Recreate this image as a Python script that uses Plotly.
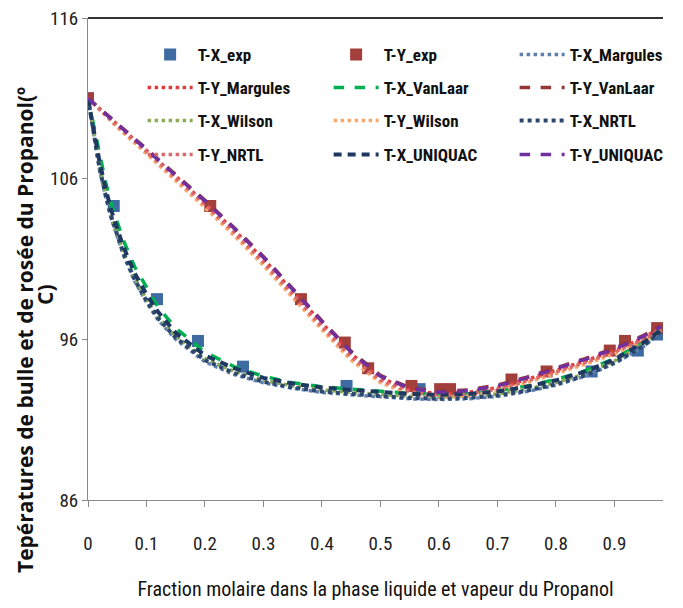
import plotly.graph_objects as go

# ---------------- data ----------------
x_exp_liq = [0, 0.044, 0.118, 0.188, 0.265, 0.442, 0.567, 0.61, 0.861, 0.94, 0.973]
T_exp_liq = [111.0, 104.3, 98.5, 95.9, 94.3, 93.1, 92.9, 92.8, 94.0, 95.3, 96.3]

x_exp_vap = [0, 0.209, 0.364, 0.439, 0.479, 0.553, 0.602, 0.619, 0.724, 0.784, 0.892, 0.918, 0.973]
T_exp_vap = [111.0, 104.3, 98.5, 95.8, 94.2, 93.1, 92.9, 92.9, 93.5, 94.0, 95.3, 95.9, 96.7]

x_liq = [0, 0.01, 0.02, 0.03, 0.04, 0.06, 0.08, 0.1, 0.12, 0.15, 0.2, 0.25, 0.3, 0.35,
         0.4, 0.45, 0.5, 0.55, 0.6, 0.65, 0.7, 0.75, 0.8, 0.85, 0.9, 0.95, 0.98]
TX_margules = [111.0, 108.6, 106.5, 104.9, 103.5, 101.3, 99.6, 98.3, 97.2, 96.0, 94.6, 93.8, 93.3, 92.95,
               92.7, 92.55, 92.4, 92.3, 92.25, 92.3, 92.45, 92.75, 93.15, 93.7, 94.5, 95.55, 96.45]
TX_vanlaar = [111.0, 109.2, 107.4, 105.8, 104.4, 102.2, 100.5, 99.2, 98.0, 96.7, 95.2, 94.3, 93.7, 93.3,
              93.05, 92.9, 92.75, 92.65, 92.6, 92.65, 92.8, 93.1, 93.5, 94.05, 94.8, 95.85, 96.65]
TX_wilson = [111.0, 108.8, 106.8, 105.1, 103.7, 101.5, 99.8, 98.5, 97.4, 96.2, 94.8, 94.0, 93.45, 93.1,
             92.85, 92.7, 92.55, 92.45, 92.4, 92.45, 92.6, 92.9, 93.3, 93.85, 94.65, 95.7, 96.55]
TX_nrtl = [111.0, 108.7, 106.6, 105.0, 103.6, 101.4, 99.7, 98.4, 97.3, 96.1, 94.7, 93.9, 93.35, 93.0,
           92.75, 92.6, 92.45, 92.35, 92.3, 92.35, 92.5, 92.8, 93.2, 93.75, 94.55, 95.6, 96.5]
TX_uniquac = [111.0, 109.0, 107.0, 105.4, 104.0, 101.8, 100.1, 98.8, 97.7, 96.4, 95.0, 94.2, 93.6, 93.25,
              93.0, 92.85, 92.7, 92.6, 92.55, 92.6, 92.75, 93.05, 93.45, 94.0, 94.75, 95.8, 96.6]

x_vap = [0, 0.05, 0.1, 0.15, 0.2, 0.25, 0.3, 0.35, 0.4, 0.45, 0.5, 0.55, 0.6, 0.65, 0.7,
         0.75, 0.8, 0.85, 0.9, 0.95, 0.98]
TY_margules = [111.0, 109.35, 107.75, 106.15, 104.5, 102.8, 101.0, 99.0, 97.0, 95.1, 93.6, 92.85, 92.6,
               92.7, 93.0, 93.5, 94.05, 94.65, 95.3, 96.1, 96.75]
TY_vanlaar = [111.0, 109.45, 107.85, 106.25, 104.65, 102.95, 101.15, 99.15, 97.15, 95.25, 93.75, 93.0,
              92.75, 92.85, 93.15, 93.65, 94.2, 94.8, 95.45, 96.25, 96.85]
TY_wilson = [111.0, 109.2, 107.55, 105.9, 104.2, 102.45, 100.6, 98.6, 96.6, 94.7, 93.3, 92.6, 92.4,
             92.5, 92.8, 93.3, 93.85, 94.45, 95.1, 95.9, 96.55]
TY_nrtl = [111.0, 109.3, 107.7, 106.05, 104.4, 102.65, 100.8, 98.8, 96.8, 94.9, 93.45, 92.75, 92.5,
           92.6, 92.9, 93.4, 93.95, 94.55, 95.2, 96.0, 96.65]
TY_uniquac = [111.0, 109.4, 107.8, 106.2, 104.6, 102.9, 101.1, 99.1, 97.1, 95.2, 93.7, 92.95, 92.7,
              92.8, 93.1, 93.6, 94.15, 94.75, 95.4, 96.2, 96.8]

x_ticks = [0, 0.1, 0.2, 0.3, 0.4, 0.5, 0.6, 0.7, 0.8, 0.9]
y_ticks = [86, 96, 106, 116]

y_title_1 = "Tepératures de bulle et de rosée du Propanol(º"
y_title_2 = "C)"

# ---------------- figure ----------------
FONT = "Liberation Sans Narrow, Roboto Condensed, Arial Narrow, sans-serif"
fig = go.Figure()

def line(name, x, y, color, dash, width, leg):
    fig.add_trace(go.Scatter(x=x, y=y, mode="lines", name=name, legend=leg,
                             line=dict(color=color, dash=dash, width=width)))

fig.add_trace(go.Scatter(x=x_exp_liq, y=T_exp_liq, mode="markers", name="T-X_exp", legend="legend",
                         marker=dict(symbol="square", size=12, color="#3F6BA3")))
fig.add_trace(go.Scatter(x=x_exp_vap, y=T_exp_vap, mode="markers", name="T-Y_exp", legend="legend",
                         marker=dict(symbol="square", size=12, color="#A33F3A")))
line("T-X_Margules", x_liq, TX_margules, "#5E7FAE", "dot", 3.5, "legend")
line("T-Y_Margules", x_vap, TY_margules, "#E03A3A", "dot", 3.5, "legend2")
line("T-X_VanLaar", x_liq, TX_vanlaar, "#00B050", "dash", 3.5, "legend2")
line("T-Y_VanLaar", x_vap, TY_vanlaar, "#943634", "dash", 3.5, "legend2")
line("T-X_Wilson", x_liq, TX_wilson, "#8DAA56", "dot", 3.5, "legend3")
line("T-Y_Wilson", x_vap, TY_wilson, "#F9A66B", "dot", 3.5, "legend3")
line("T-X_NRTL", x_liq, TX_nrtl, "#2C4870", "dot", 4, "legend3")
line("T-Y_NRTL", x_vap, TY_nrtl, "#D9696C", "dot", 3.5, "legend4")
line("T-X_UNIQUAC", x_liq, TX_uniquac, "#1F3860", "8px,6px", 4, "legend4")
line("T-Y_UNIQUAC", x_vap, TY_uniquac, "#7030A0", "dash", 3.5, "legend4")

# page has an 8px body margin: the figure is made 8px smaller and margins shifted
W, H = 675, 600
ML, MT, MR, MB = 80, 10, 20, 108
plot_h = H - MT - MB
plot_w = W - ML - MR

leg_common = dict(orientation="h", x=0.095, xanchor="left", yanchor="middle",
                  bgcolor="rgba(0,0,0,0)", entrywidth=126, entrywidthmode="pixels",
                  itemwidth=45, font=dict(family=FONT, size=17, color="#111111", weight="bold"))
rows_y = [55, 88, 121, 155]   # page pixel rows of the legend
legs = {}
for i, key in enumerate(["legend", "legend2", "legend3", "legend4"]):
    legs[key] = dict(leg_common, y=1 - (rows_y[i] - 8 - MT) / plot_h)

def page_to_paper(px, py):
    return (px - 8 - ML) / plot_w, 1 - (py - 8 - MT) / plot_h

ax1, ay1 = page_to_paper(25, 330)
ax2, ay2 = page_to_paper(45, 295)
title_font = dict(family="Open Sans, sans-serif", size=21, color="#111111", weight="bold")

fig.update_layout(
    width=W, height=H,
    margin=dict(l=ML, r=MR, t=MT, b=MB, autoexpand=False),
    paper_bgcolor="white", plot_bgcolor="white",
    showlegend=True,
    **legs,
    xaxis=dict(range=[0, 0.983], tickvals=x_ticks, ticktext=[str(v) for v in x_ticks],
               showgrid=False, zeroline=False, showline=True, linecolor="#8A8A8A", linewidth=1,
               ticks="outside", ticklen=6, tickcolor="#8A8A8A", ticklabelstandoff=20,
               tickfont=dict(family=FONT, size=19, color="#222222"),
               title=dict(text="Fraction molaire dans la phase liquide et vapeur du Propanol",
                          font=dict(family=FONT, size=20, color="#111111"), standoff=28)),
    yaxis=dict(range=[86, 116], tickvals=y_ticks, showgrid=False, zeroline=False,
               showline=True, linecolor="#8A8A8A", linewidth=1, ticklabeloverflow="allow",
               ticks="outside", ticklen=5, tickcolor="#8A8A8A", ticklabelstandoff=0,
               tickfont=dict(family=FONT, size=19, color="#222222")),
    shapes=[dict(type="line", xref="paper", yref="paper", x0=0, x1=1, y0=1, y1=1,
                 line=dict(color="#333333", width=2))],
    annotations=[
        dict(text=y_title_1, textangle=-90, xref="paper", yref="paper", x=ax1, y=ay1,
             xanchor="center", yanchor="middle", showarrow=False, font=title_font),
        dict(text=y_title_2, textangle=-90, xref="paper", yref="paper", x=ax2, y=ay2,
             xanchor="center", yanchor="middle", showarrow=False, font=title_font),
    ],
)

fig.write_html("out.html")
